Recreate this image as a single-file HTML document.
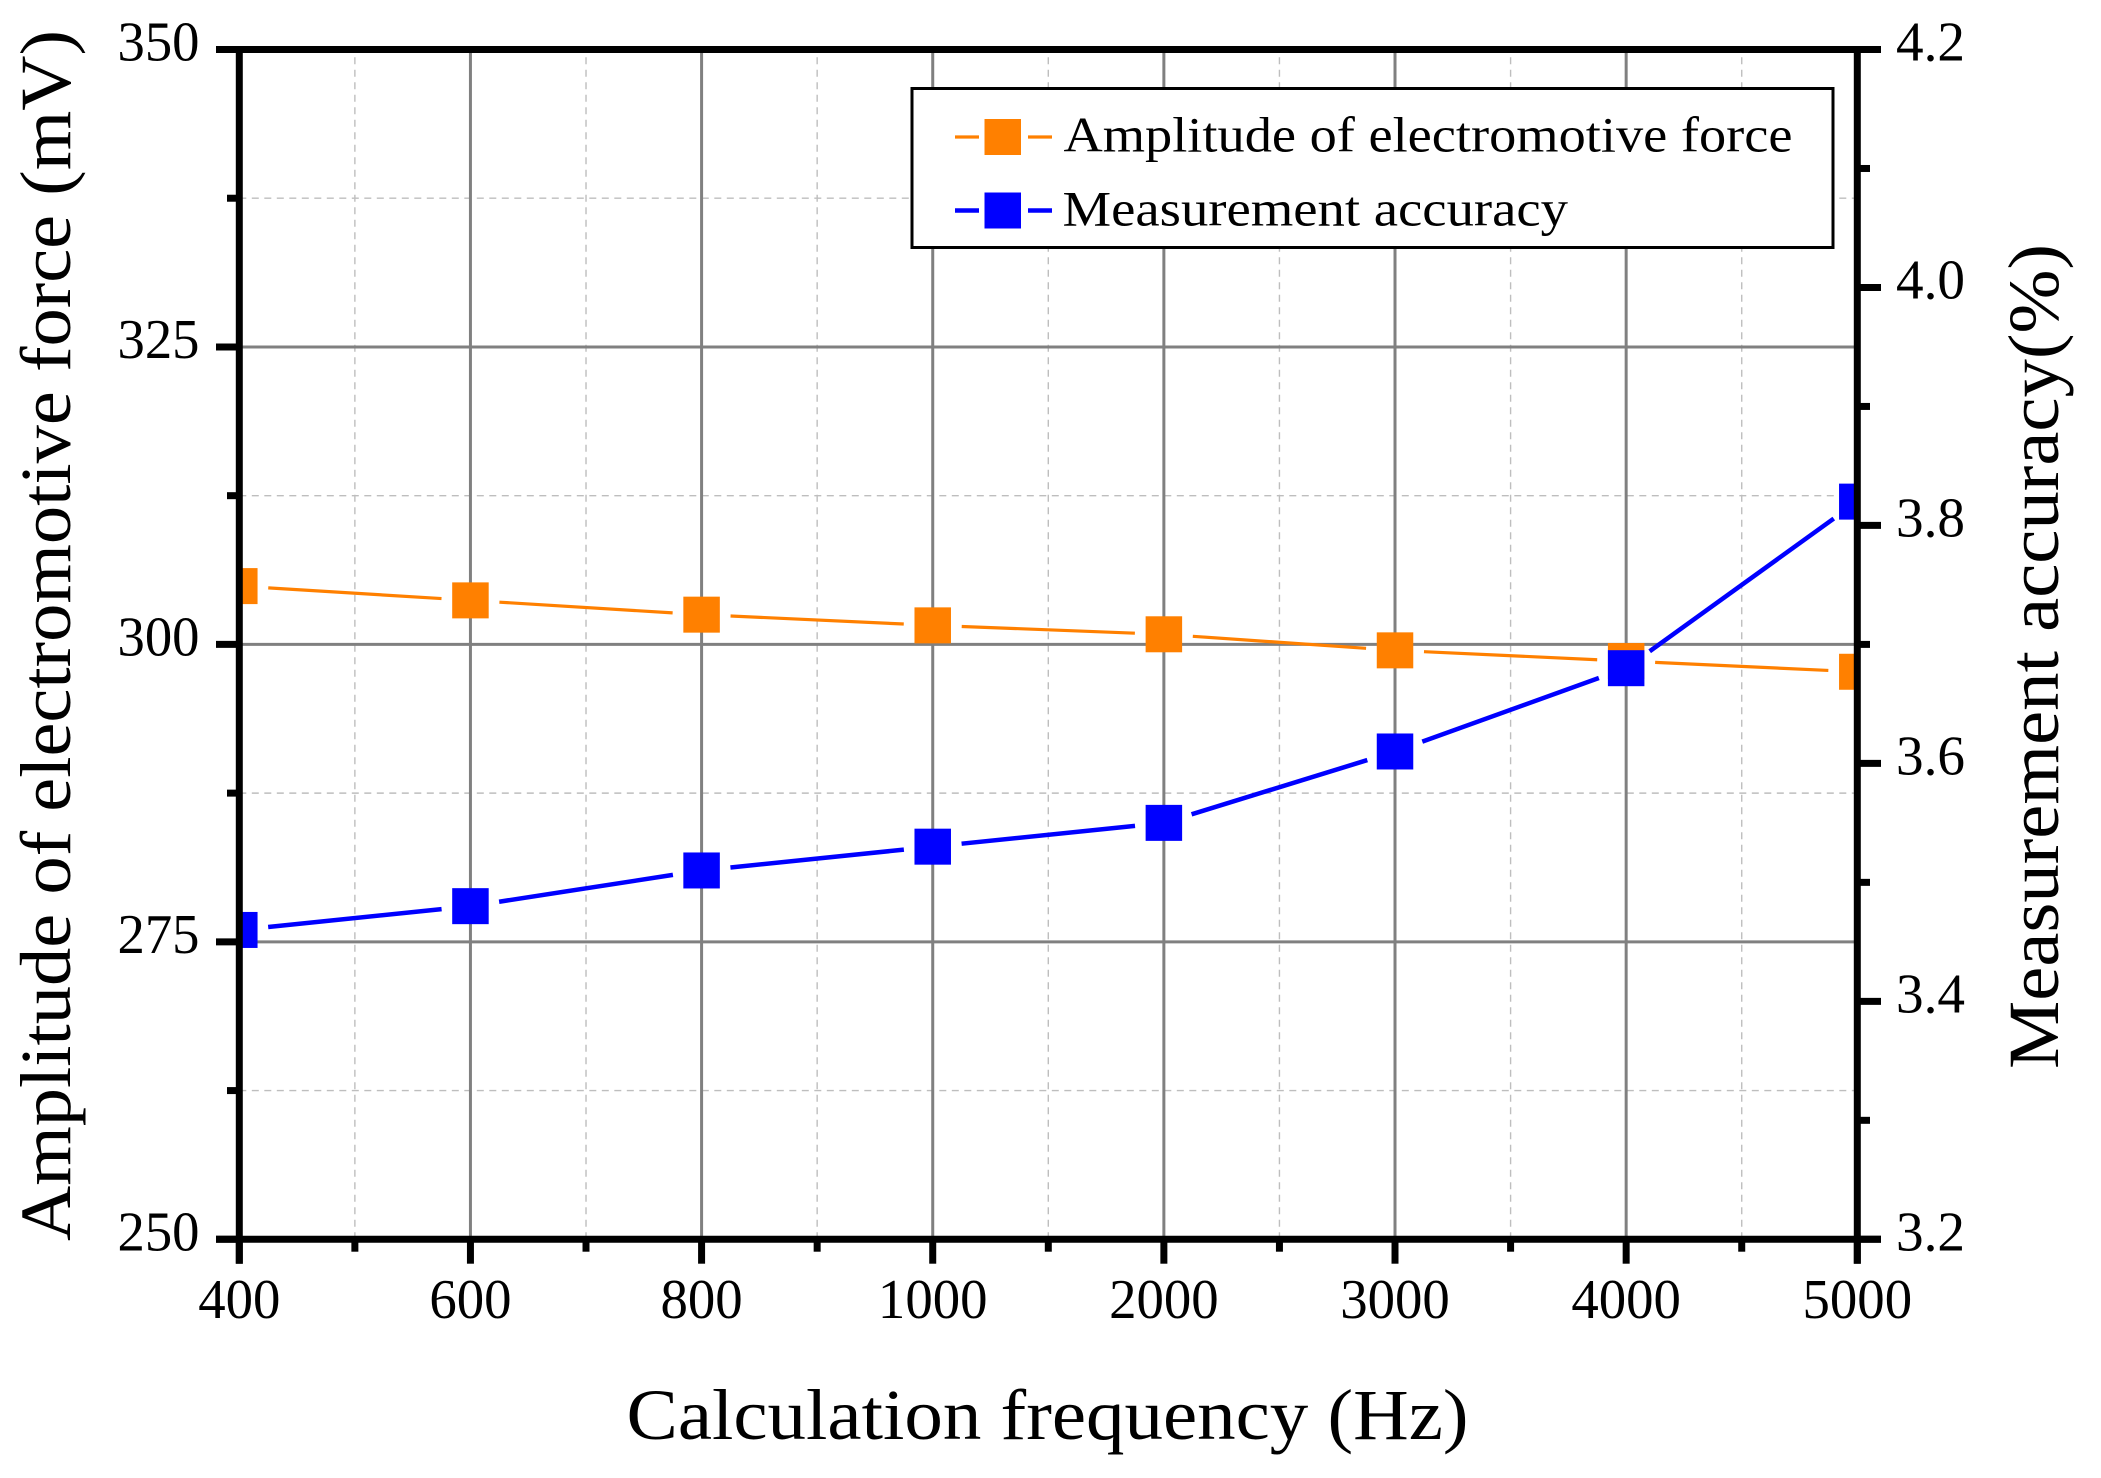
<!DOCTYPE html>
<html lang="en">
<head>
<meta charset="utf-8">
<title>Amplitude of electromotive force and measurement accuracy</title>
<style>
html,body{margin:0;padding:0;background:#fff;}
svg{display:block;}
text{font-family:"Liberation Serif",serif;fill:#000;}
</style>
</head>
<body>
<svg id="chart" xmlns="http://www.w3.org/2000/svg" width="2101" height="1478" viewBox="0 0 2101 1478">
  <rect width="2101" height="1478" fill="#fff"/>
  <defs>
    <clipPath id="plot-clip"><rect x="239.3" y="49.5" width="1618" height="1189.8"/></clipPath>
  </defs>
  <g id="grid"></g>
  <g id="series" clip-path="url(#plot-clip)"></g>
  <g id="axes"></g>
  <g id="labels"></g>
  <text transform="translate(70,1241) rotate(-90)" font-size="72" textLength="1211" lengthAdjust="spacingAndGlyphs">Amplitude of electromotive force (mV)</text>
  <text transform="translate(2058,1069) rotate(-90)" font-size="72" textLength="825" lengthAdjust="spacingAndGlyphs">Measurement accuracy(%)</text>
  <text x="626.5" y="1439" font-size="72" textLength="842" lengthAdjust="spacingAndGlyphs">Calculation frequency (Hz)</text>
  <g>
    <rect x="912" y="88.5" width="921" height="159" fill="#fff" stroke="#000" stroke-width="3"/>
    <g>
      <line x1="955" x2="979" y1="137" y2="137" stroke="#ff8000" stroke-width="3.2"/>
      <line x1="1028" x2="1052" y1="137" y2="137" stroke="#ff8000" stroke-width="3.2"/>
      <rect x="984.5" y="119" width="36.5" height="36" fill="#ff8000"/>
      <text x="1063.5" y="151.5" font-size="50" textLength="729" lengthAdjust="spacingAndGlyphs">Amplitude of electromotive force</text>
    </g>
    <g>
      <line x1="955" x2="979" y1="210.5" y2="210.5" stroke="#0000ff" stroke-width="4.5"/>
      <line x1="1028" x2="1052" y1="210.5" y2="210.5" stroke="#0000ff" stroke-width="4.5"/>
      <rect x="984.5" y="192.5" width="36.5" height="36" fill="#0000ff"/>
      <text x="1062.5" y="225.5" font-size="50" textLength="505.5" lengthAdjust="spacingAndGlyphs">Measurement accuracy</text>
    </g>
  </g>
</svg>
<script>
const categories = ["400","600","800","1000","2000","3000","4000","5000"];
const amplitudeValues = [304.9,303.7,302.5,301.6,300.85,299.5,298.6,297.7];
const accuracyValues = [3.46,3.48,3.51,3.53,3.55,3.61,3.68,3.82];
const leftTicks = [250,275,300,325,350];
const rightTicks = [3.2,3.4,3.6,3.8,4.0,4.2];

const NS = "http://www.w3.org/2000/svg";
const plotLeft = 239.3, plotRight = 1857.3, plotTop = 49.5, plotBottom = 1239.3;

function xAt(i) {
  return plotLeft + i * (plotRight - plotLeft) / (categories.length - 1);
}
function yLeft(v) {
  const lo = leftTicks[0], hi = leftTicks[leftTicks.length - 1];
  return plotBottom - (v - lo) / (hi - lo) * (plotBottom - plotTop);
}
function yRight(v) {
  const lo = rightTicks[0], hi = rightTicks[rightTicks.length - 1];
  return plotBottom - (v - lo) / (hi - lo) * (plotBottom - plotTop);
}
function line(parent, x1, y1, x2, y2, stroke, width, dash) {
  const el = document.createElementNS(NS, "line");
  el.setAttribute("x1", x1);
  el.setAttribute("y1", y1);
  el.setAttribute("x2", x2);
  el.setAttribute("y2", y2);
  el.setAttribute("stroke", stroke);
  el.setAttribute("stroke-width", width);
  if (dash) el.setAttribute("stroke-dasharray", dash);
  parent.appendChild(el);
  return el;
}
function label(parent, str, x, y, anchor, len) {
  const el = document.createElementNS(NS, "text");
  el.setAttribute("x", x);
  el.setAttribute("y", y);
  el.setAttribute("font-size", "56");
  el.setAttribute("text-anchor", anchor);
  el.setAttribute("textLength", len);
  el.setAttribute("lengthAdjust", "spacingAndGlyphs");
  el.textContent = str;
  parent.appendChild(el);
  return el;
}

const grid = document.getElementById("grid");
const series = document.getElementById("series");
const axes = document.getElementById("axes");
const labels = document.getElementById("labels");

const minorColor = "#bebebe", majorColor = "#808080", minorDash = "7 5.5";

/* minor grid */
categories.slice(1).forEach(function (c, i) {
  const mx = xAt(i + 0.5);
  const g = line(grid, mx, plotBottom, mx, plotTop, minorColor, 1.4, minorDash);
  
  
  const t = line(axes, mx, plotBottom, mx, 1251.7, "#000", 7);
  
  
});
leftTicks.slice(1).forEach(function (v, i) {
  const my = yLeft((v + leftTicks[i]) / 2);
  const g = line(grid, plotLeft, my, plotRight, my, minorColor, 1.4, minorDash);
  
  
  const t = line(axes, 227, my, plotLeft, my, "#000", 7);
  
  
});
rightTicks.slice(1).forEach(function (v, i) {
  const my = yRight((v + rightTicks[i]) / 2);
  const t = line(axes, plotRight, my, 1870, my, "#000", 7);
  
  
});

/* major grid + ticks + labels */
categories.forEach(function (c, i) {
  const px = xAt(i);
  if (i > 0 && i < categories.length - 1) {
    const g = line(grid, px, plotTop, px, plotBottom, majorColor, 3);
    
    
  }
  const t = line(axes, px, plotBottom, px, 1263.7, "#000", 7);
  
  
  const l = label(labels, c, px, 1318, "middle", c.length * 27.4);
  
  
});
leftTicks.forEach(function (v, i) {
  const py = yLeft(v);
  if (i > 0 && i < leftTicks.length - 1) {
    const g = line(grid, plotLeft, py, plotRight, py, majorColor, 3);
    
    
  }
  const t = line(axes, 216, py, plotLeft, py, "#000", 7);
  
  
  const l = label(labels, String(v), 199.5, py + 11, "end", 82);
  
  
});
rightTicks.forEach(function (v) {
  const py = yRight(v);
  const t = line(axes, plotRight, py, 1881, py, "#000", 7);
  
  
  const l = label(labels, v.toFixed(1), 1896, py + 11, "start", 69);
  
  
});

/* axis spines */
const spineTop = line(axes, 216, plotTop, 1881, plotTop, "#000", 7);


const spineBottom = line(axes, 216, plotBottom, 1881, plotBottom, "#000", 7);


const spineLeft = line(axes, plotLeft, plotTop, plotLeft, 1263.7, "#000", 7);


const spineRight = line(axes, plotRight, plotTop, plotRight, 1263.7, "#000", 7);



/* series: line segments stop short of each marker */
function drawSeries(values, yFn, color, width, key) {
  const gap = 29;
  for (let i = 0; i < values.length - 1; i++) {
    const x0 = xAt(i), y0 = yFn(values[i]), x1 = xAt(i + 1), y1 = yFn(values[i + 1]);
    const d = Math.hypot(x1 - x0, y1 - y0);
    const ux = (x1 - x0) / d, uy = (y1 - y0) / d;
    const seg = line(series, x0 + ux * gap, y0 + uy * gap, x1 - ux * gap, y1 - uy * gap, color, width);
    
    
  }
  values.forEach(function (v, i) {
    const m = document.createElementNS(NS, "rect");
    m.setAttribute("x", xAt(i) - 18.25);
    m.setAttribute("y", yFn(v) - 18);
    m.setAttribute("width", 36.5);
    m.setAttribute("height", 36);
    m.setAttribute("fill", color);
    
    
    series.appendChild(m);
  });
}
drawSeries(amplitudeValues, yLeft, "#ff8000", 3.2, "amplitude");
drawSeries(accuracyValues, yRight, "#0000ff", 4.5, "accuracy");
</script>
</body>
</html>
